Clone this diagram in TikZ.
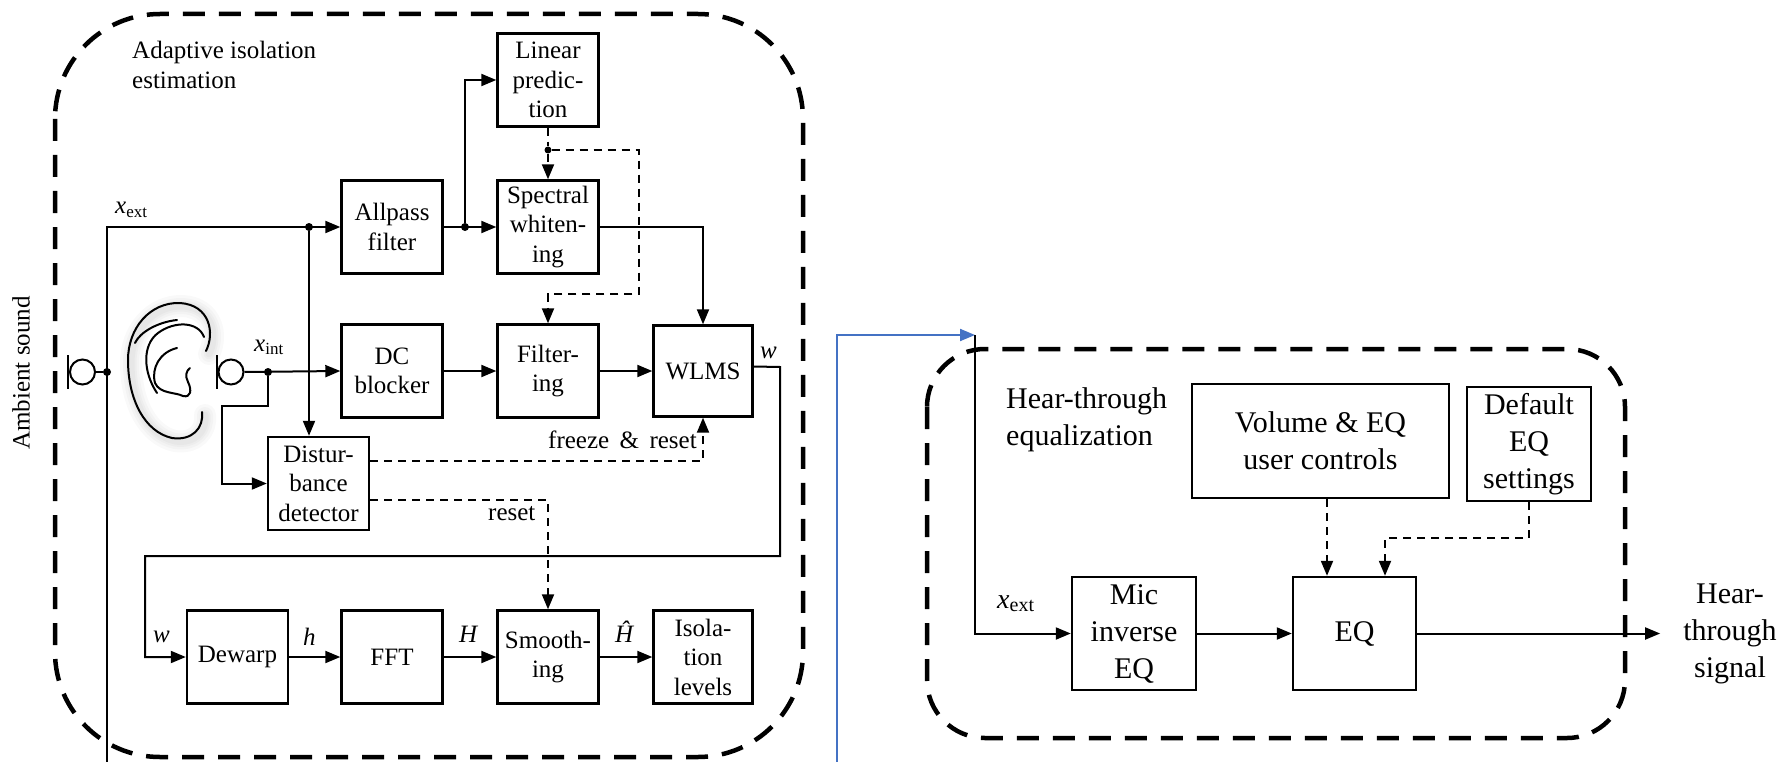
\documentclass[tikz,border=0pt]{standalone}
\usepackage{fontspec}
\setmainfont{Liberation Serif}
\usetikzlibrary{arrows.meta}
\newcommand\lsz{\fontsize{25}{29.5}\selectfont}
\newcommand\rsz{\fontsize{30}{37}\selectfont}
\newcommand\sigl[2]{\textit{#1}\raisebox{-0.3ex}{\fontsize{17}{17}\selectfont #2}}
\newcommand\sigr[2]{\textit{#1}\raisebox{-0.3ex}{\fontsize{20}{20}\selectfont #2}}
\definecolor{linkblue}{RGB}{68,114,196}
\begin{document}
\begin{tikzpicture}[x=1pt,y=-1pt,
  blk/.style={draw, line width=2.4pt, inner sep=0pt, align=center, font=\lsz,
              minimum width=101pt, minimum height=93pt},
  rblk/.style={draw, line width=2.4pt, inner sep=0pt, align=center, font=\rsz},
  wire/.style={line width=2pt},
  flow/.style={wire, -{Triangle[length=15pt,width=12pt]}},
  ctl/.style={line width=2pt, dash pattern=on 8pt off 6pt},
  ctlflow/.style={ctl, -{Triangle[length=15pt,width=12pt]}},
  panel/.style={line width=4.5pt, dash pattern=on 22pt off 14pt},
  dot/.style={circle, fill, inner sep=0pt, minimum size=8pt},
  lab/.style={font=\lsz, inner sep=0pt},
  earline/.style={line width=2pt, line cap=round, line join=round},
  earglow/.style={line cap=round, line join=round, black, opacity=0.025},
  micbar/.style={line width=2.4pt},
  mic/.style={circle, draw, line width=2pt, inner sep=0pt, minimum size=25pt},
]
\useasboundingbox (0,0) rectangle (1790,762);

% ---------- adaptive isolation estimation ----------
\draw[panel, rounded corners=105pt] (55,14) rectangle (803,757);
\node[lab, anchor=north west, align=left] (ttlA) at (132,41) {Adaptive isolation\\estimation};
\node[lab, rotate=90] (amb) at (21,373) {Ambient sound};

\node[blk] (lp) at (548,80) {Linear\\predic-\\tion};
\node[blk] (ap) at (392,227) {Allpass\\filter};
\node[blk] (sw) at (548,227) {Spectral\\whiten-\\ing};
\node[blk] (dc) at (392,371) {DC\\blocker};
\node[blk] (fi) at (548,371) {Filter-\\ing};
\node[blk, minimum width=99pt, minimum height=91pt] (wl) at (703,371) {WLMS};
\node[blk] (dd) at (318.5,483.5) {Distur-\\bance\\detector};
\node[blk] (dw) at (237.5,657) {Dewarp};
\node[blk] (ff) at (392,657) {FFT};
\node[blk] (sm) at (548,657) {Smooth-\\ing};
\node[blk, minimum width=99pt] (il) at (703,657) {Isola-\\tion\\levels};

% microphones
\node[mic] (micL) at (82.5,372) {};
\draw[micbar] (68,355) -- (68,389);
\node[mic] (micR) at (231,372) {};
\draw[micbar] (217,355) -- (217,389);

% ear with a soft shadow
\begin{scope}[shift={(3,3)}]
\foreach \lw in {22,16,11,7}{
  \draw[earglow, line width=\lw pt]
    (206,351) .. controls (215,333) and (210,305) .. (180,303)
    .. controls (150,302) and (128,328) .. (128,360)
    .. controls (128,400) and (145,432) .. (172,438)
    .. controls (192,441) and (204,428) .. (202,412);
}
\end{scope}
\draw[earline]
  (206,351) .. controls (215,333) and (210,305) .. (180,303)
  .. controls (150,302) and (128,328) .. (128,360)
  .. controls (128,400) and (145,432) .. (172,438)
  .. controls (192,441) and (204,428) .. (202,412);
\draw[earline] (135,343) .. controls (140,332) and (158,322) .. (177,320);
\draw[earline] (157,393) .. controls (143,372) and (142,345) .. (158,333)
  .. controls (174,321) and (198,321) .. (204,337);
\draw[earline] (177,348) .. controls (160,352) and (151,368) .. (155,383)
  .. controls (160,394) and (175,392) .. (183,396)
  .. controls (191,398) and (192,390) .. (188,382)
  .. controls (185,376) and (186,371) .. (190,368);

% x_ext path
\coordinate (xbot) at (107,762);
\coordinate (xcor) at (107,227);
\node[dot] (jL) at (107,372) {};
\node[dot] (jA) at (309,227) {};
\node[dot] (jB) at (465,227) {};
\node[dot] (jR) at (268,372) {};
\draw[wire] (micL.east) -- (jL);
\draw[flow] (xbot) -- (xcor) -- (ap.west);
\draw[flow] (jA) -- (jA |- dd.north);
\draw[flow] (ap.east) -- (sw.west);
\draw[flow] (jB) |- (lp.west);
\node[lab, anchor=base west] (lxe) at (115,214) {\sigl{x}{ext}};

% x_int path
\draw[flow] (micR.east) -- (dc.west);
\draw[flow] (jR) -- (268,406) -- (222,406) |- (dd.west);
\node[lab, anchor=base west] (lxi) at (254,351) {\sigl{x}{int}};

\draw[flow] (dc.east) -- (fi.west);
\draw[flow] (fi.east) -- (wl.west);
\draw[flow] (sw.east) -| (wl.north);

% whitening filter copy
\node[dot, minimum size=7pt] (jC) at (548,150) {};
\draw[ctl] (lp.south) -- (jC);
\draw[ctlflow] (jC) -- (sw.north);
\draw[ctlflow] (jC) -- (639,150) -- (639,294) -| (fi.north);

% disturbance control
\draw[ctlflow] ([yshift=22.5pt]dd.east) -| (wl.south);
\draw[ctlflow] ([yshift=-16.5pt]dd.east) -| (sm.north);
\node[lab, anchor=base west] (lfr) at (548,448) {freeze~\,\&~\,reset};
\node[lab, anchor=base west] (lrs) at (488,520) {reset};

% weight feedback
\draw[flow] ([yshift=4.5pt]wl.east) -- (780,367) -- (780,556) -- (145,556) |- (dw.west);
\node[lab, anchor=base west] (lw1) at (760,358) {\textit{w}};
\node[lab, anchor=base west] (lw2) at (153,642) {\textit{w}};

\draw[flow] (dw.east) -- (ff.west);
\draw[flow] (ff.east) -- (sm.west);
\draw[flow] (sm.east) -- (il.west);
\node[lab, anchor=base west] (lh) at (303,645) {\textit{h}};
\node[lab, anchor=base west] (lH) at (459,642) {\textit{H}};
\node[lab, anchor=base west] (lHh) at (615,642) {\textit{Ĥ}};

% ---------- hear-through equalization ----------
\draw[panel, rounded corners=58pt] (927,349) rectangle (1625,738);
\node[font=\rsz, inner sep=0pt, anchor=north west, align=left] (ttlB) at (1006,387) {Hear-through\\equalization};

\node[rblk, minimum width=257pt, minimum height=114pt] (vol) at (1320.5,441) {Volume \& EQ\\user controls};
\node[rblk, minimum width=124pt, minimum height=114pt] (def) at (1529,444) {Default\\EQ\\settings};
\node[rblk, minimum width=124pt, minimum height=113pt] (mie) at (1134,633.5) {Mic\\inverse\\EQ};
\node[rblk, minimum width=123pt, minimum height=113pt] (eq) at (1354.5,633.5) {EQ};
\node[font=\rsz, inner ysep=0pt, inner xsep=23pt, align=center] (hts) at (1730,633.5) {Hear-\\through\\signal};

\coordinate (bl0) at (837,762);
\coordinate (ht0) at (975,335);
\draw[linkblue, line width=2pt, -{Triangle[length=15pt,width=12pt]}] (bl0) |- (ht0);
\draw[flow] (ht0) |- (mie.west);
\node[inner sep=0pt, anchor=base west, font=\fontsize{28}{30}\selectfont] (rxe) at (997,608) {\sigr{x}{ext}};
\draw[flow] (mie.east) -- (eq.west);
\draw[flow] (eq.east) -- (hts.west);
\draw[ctlflow] ([xshift=6.5pt]vol.south) -- ([xshift=6.5pt]vol.south |- eq.north);
\draw[ctlflow] (def.south) -- ++(0,36) -| ([xshift=30.5pt]eq.north);
\end{tikzpicture}
\end{document}
